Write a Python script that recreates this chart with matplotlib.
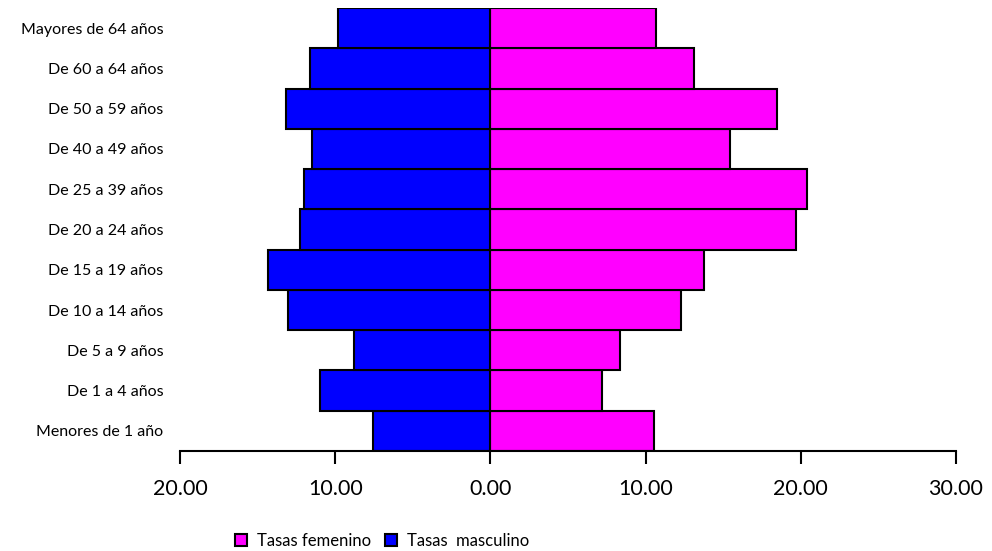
"""Pirámide de tasas por grupo de edad y sexo."""

import matplotlib
matplotlib.use('Agg')
import matplotlib.pyplot as plt
from matplotlib.ticker import FuncFormatter
import numpy as np

# Datos (de abajo hacia arriba)
grupos = ['Menores de 1 año', 'De 1 a 4 años', 'De 5 a 9 años', 'De 10 a 14 años',
          'De 15 a 19 años', 'De 20 a 24 años', 'De 25 a 39 años', 'De 40 a 49 años',
          'De 50 a 59 años', 'De 60 a 64 años', 'Mayores de 64 años']
tasas_femenino = [10.55, 7.19, 8.37, 12.31, 13.78, 19.72, 20.37, 15.43, 18.45, 13.15, 10.68]
tasas_masculino = [7.59, 10.95, 8.79, 13.02, 14.32, 12.26, 11.99, 11.50, 13.19, 11.60, 9.82]
ticks_x = [-20, -10, 0, 10, 20, 30]

plt.rcParams['font.family'] = ['Lato', 'DejaVu Sans']

fig = plt.figure(figsize=(9.92, 5.51), dpi=100)
ax = fig.add_axes([0.1815, 0.1815, 0.7822, 0.804])

y = np.arange(len(grupos))
ax.barh(y, tasas_femenino, height=1.0, color='#FF00FF', edgecolor='black',
        linewidth=1.5, label='Tasas femenino')
ax.barh(y, -np.array(tasas_masculino), height=1.0, color='#0000FF', edgecolor='black',
        linewidth=1.5, label='Tasas  masculino')

ax.set_xlim(-20, 30)
ax.set_ylim(-0.5, len(grupos) - 0.5)
ax.set_xticks(ticks_x)
ax.xaxis.set_major_formatter(FuncFormatter(lambda v, p: f'{abs(v):.2f}'))
ax.tick_params(axis='x', direction='out', length=9, width=1.5, labelsize=15.5, pad=11)
ax.set_yticks(y)
ax.set_yticklabels(grupos, fontsize=11.5)
ax.tick_params(axis='y', length=0, pad=12)

for lado in ['top', 'right', 'left']:
    ax.spines[lado].set_visible(False)
ax.spines['bottom'].set_linewidth(1.5)

fig.legend(loc='center', bbox_to_anchor=(0.385, 0.018), ncol=2, frameon=False,
           fontsize=12, handlelength=0.75, handleheight=0.75, handletextpad=0.6,
           columnspacing=0.8, borderaxespad=0)

plt.savefig('out.png', dpi=100)
plt.close()
